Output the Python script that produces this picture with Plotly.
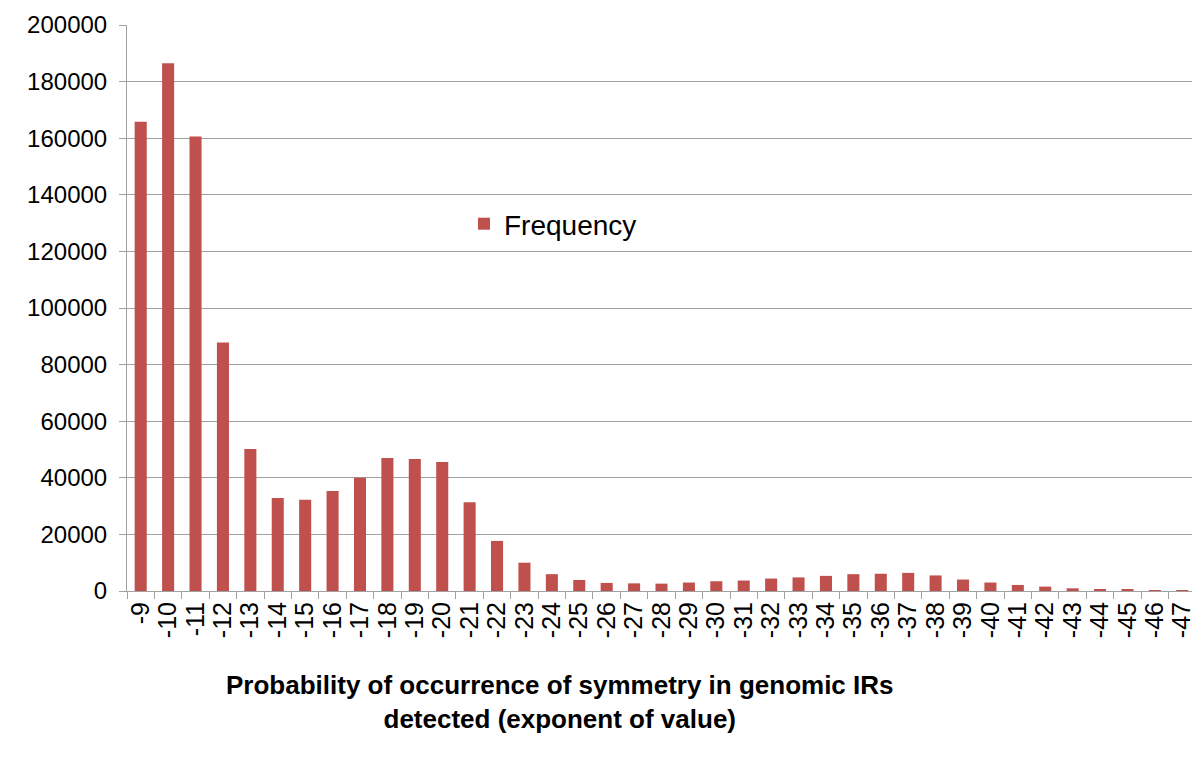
import plotly.graph_objects as go

categories = [str(-k) for k in range(9, 48)]
frequency = [165800, 186500, 160600, 87800, 50200, 32900, 32200, 35300, 40000,
             47000, 46600, 45600, 31400, 17700, 10000, 5950, 3900, 2850, 2700,
             2600, 3000, 3450, 3700, 4400, 4800, 5350, 5950, 6100, 6400, 5500,
             4050, 3000, 2150, 1550, 950, 700, 450, 350, 50]
x_title = "<b>Probability of occurrence of symmetry in genomic IRs<br>detected (exponent of value)</b>"

# page body has an 8px margin, so the figure is drawn offset by (8, 8)
W, H = 1192, 763
L, T, R, B = 119, 17, 4, 180
pw, ph = W - L - R, H - T - B

fig = go.Figure()
fig.add_trace(go.Bar(x=categories, y=frequency, name="Frequency",
                     marker=dict(color="#C0504D", line=dict(width=0)),
                     showlegend=True))

fig.add_annotation(text=x_title, xref="paper", yref="paper",
                   x=(552 - L) / pw, y=(583 - 694) / ph,
                   xanchor="center", yanchor="middle", showarrow=False,
                   font=dict(family="Liberation Sans, Arial, sans-serif",
                             size=26, color="black"))

fig.update_layout(
    width=W, height=H,
    margin=dict(l=L, r=R, t=T, b=B),
    paper_bgcolor="white", plot_bgcolor="white",
    bargap=0.56,
    font=dict(family="Liberation Sans, Arial, sans-serif", color="black"),
    showlegend=True,
    legend=dict(x=(456 - L) / pw, y=(583 - 216) / ph, xanchor="left", yanchor="middle",
                font=dict(size=28), bgcolor="rgba(0,0,0,0)"),
    xaxis=dict(type="category", tickangle=-90, tickmode="linear", dtick=1,
               tickfont=dict(size=25),
               ticks="outside", ticklen=7, tickcolor="#a0a0a0",
               tickson="boundaries", showline=True, linecolor="#a0a0a0",
               linewidth=1, showgrid=False, automargin=False),
    yaxis=dict(range=[0, 200000], dtick=20000, tickfont=dict(size=24),
               tickformat="d", showgrid=True, gridcolor="#a0a0a0", gridwidth=1,
               ticks="outside", ticklen=7, tickcolor="#a0a0a0", ticklabelstandoff=7,
               showline=True, linecolor="#a0a0a0", zeroline=False, automargin=False),
)

fig.write_html("out.html")
